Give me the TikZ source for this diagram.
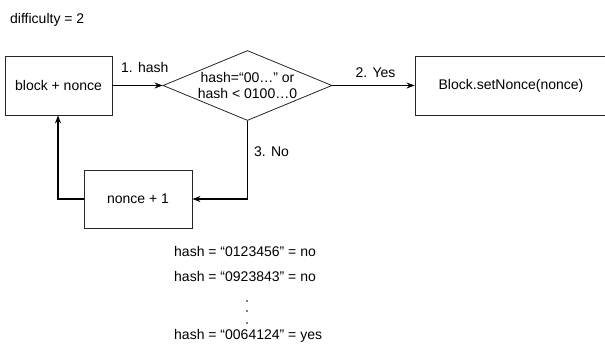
\documentclass[tikz,border=0pt]{standalone}
\usepackage{fontspec}
\setmainfont{Liberation Sans}
\usetikzlibrary{arrows.meta, positioning, shapes.geometric}

\begin{document}
\begin{tikzpicture}[x=1pt, y=-1pt]
\tikzset{
  stepbox/.style={
    draw=black!85,
    rectangle,
    line width=0.8pt,
    font=\fontsize{14}{17}\selectfont
  },
  flow/.style={
    -{Stealth[length=8pt, width=6pt]},
    line width=1.4pt
  },
  lbl/.style={
    font=\fontsize{14}{17}\selectfont,
    inner sep=0pt
  }
}
\useasboundingbox (0,0) rectangle (605,354);

% Difficulty
\node[lbl, anchor=west] (diff) at (10,20) {difficulty = 2};

% Start box
\node[stepbox, minimum width=107pt, minimum height=59pt] (block) at (58.5,85.5) {block + nonce};

% Check
\node[draw=black!85, line width=0.8pt, diamond, aspect=2.4, minimum width=169pt, minimum height=70pt, inner sep=0pt, align=center, font=\fontsize{14}{16}\selectfont] (check) at (247.5,85.5) {hash=“00…” or\\hash < 0100…0};

% Result box (runs past the right edge)
\node[stepbox, minimum width=192pt, minimum height=59pt] (setnonce) at (511,85.5) {Block.setNonce(nonce)};

% Increment box
\node[stepbox, minimum width=108pt, minimum height=58pt] (incr) at (138,199) {nonce + 1};

% Arrows
\draw[flow] (block.east) -- (check.west);
\node[lbl, anchor=west] (hashlbl) at (121,67) {1. hash};
\draw[flow] (check.east) -- node[lbl, above=7pt, xshift=2pt] (yeslbl) {2. Yes} (setnonce.west);
\coordinate (nocorner) at (check.south |- incr.east);
\draw[flow] (check.south) -- (nocorner) -- (incr.east);
\node[lbl, anchor=west] (nolbl) at (254,152) {3. No};
\coordinate (loopcorner) at (58,199);
\draw[flow] (incr.west) -- (loopcorner) -- (block.south -| loopcorner);

% Tries
\node[lbl, anchor=west] (try1) at (174,251) {hash = “0123456” = no};
\node[lbl, anchor=west] (try2) at (174,276) {hash = “0923843” = no};
\foreach \yy in {301,311,323} {
  \fill (247,\yy) circle (0.9pt);
}
\node[lbl, anchor=west] (try3) at (174,336) {hash = “0064124” = yes};

\end{tikzpicture}
\end{document}
